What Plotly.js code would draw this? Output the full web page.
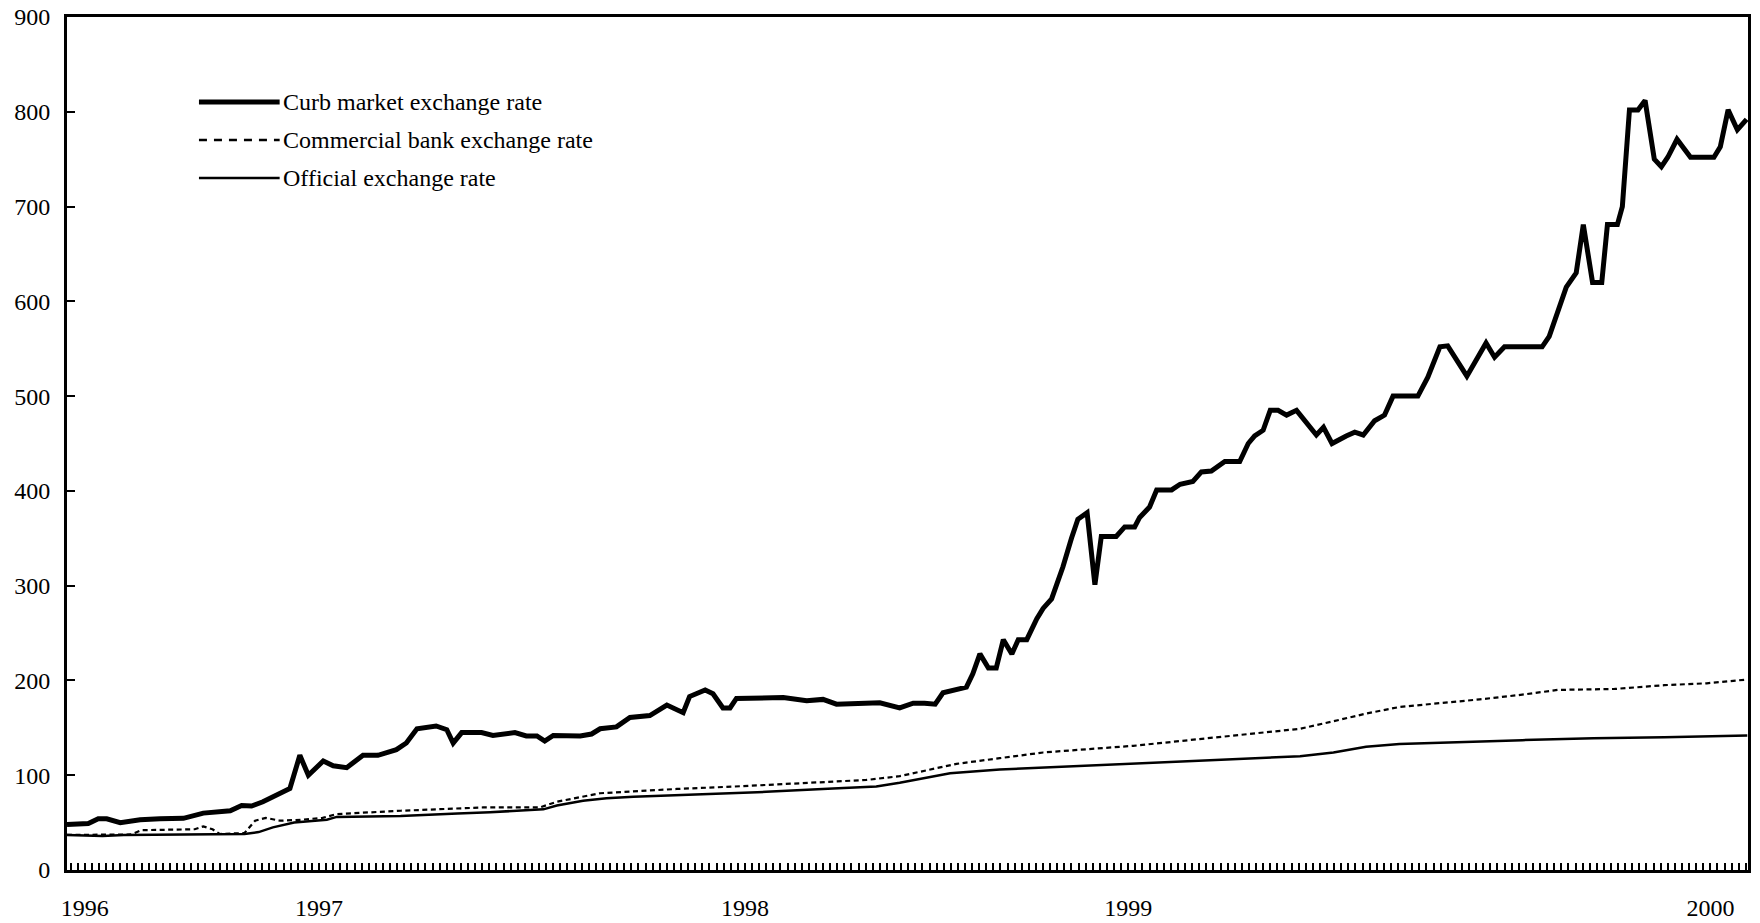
<!DOCTYPE html>
<html>
<head>
<meta charset="utf-8">
<script src="https://cdn.plot.ly/plotly-3.0.1.min.js"></script>
<style>html,body{margin:0;padding:0;background:#fff;}#chart{width:1760px;height:923px;}</style>
</head>
<body>
<div id="chart"></div>
<script>
// Observation index (one x-axis tick per observation) and values
const seriesNames = ["Curb market exchange rate", "Commercial bank exchange rate", "Official exchange rate"];

const curbX = [0,3,4.4,5.6,7.5,10.3,13.1,16.4,19.2,23,24.6,26,27.6,29,31.4,32.8,34,36.1,37.5,39.4,41.7,43.8,46.4,47.8,49.3,52,53.5,54.4,55.6,58.4,60,63.1,64.7,66.2,67.3,68.5,72.3,73.9,75.1,77.4,79.3,82.1,84.5,86.8,87.7,89.9,91,92.4,93.4,94.3,100.9,104.2,106.5,108.4,114.5,117.3,119.2,120.8,122.3,123.4,124.8,126.7,127.6,128.6,129.8,130.9,131.9,133.1,134,135.2,136.6,137.5,138.7,140.3,141.5,142.4,143.7,144.8,145.7,147.8,149,150.4,151.1,152.5,153.5,155.6,156.8,158.6,159.8,161.2,163.1,165.2,166.4,167.3,168.5,169.5,170.6,171.8,173.2,174.8,176,177,178.2,180.2,181.4,182.6,184.2,185.6,186.8,190.3,191.7,193.4,194.5,197.2,199.2,199.9,201.1,202.5,207.8,208.8,211.2,212.6,213.6,214.9,216.2,217,218.4,219.1,220.1,221.3,222.3,223.6,224.6,225.5,226.8,228.7,232,232.9,234,235.3,236.6];
const curbY = [48,49,54,54,50,53,54,54.5,60,62.5,68,67.5,72,77,86,121,100,115,110,108,121,121,127,134,149,152,148,134,145,145,142,145,141.5,141.5,136,142,141.5,143.5,149,151,161,163,174,166,183,190,186,171,171,181,182,178.5,180,175,176.5,171,176,176,175,187,190,193,207,228,213,213,243,228,243,243,265,276,286,320,350,370,377,301,352,352,362,362,372,383,401,401,407,410,420,421,431,431,450,458,464,485,485,480,485,469,459,467,450,458,462,459,474,480,500,500,520,552,553,521,548,556,541,552,552,563,615,630,681,620,620,681,681,700,802,802,812,750,742,752,771,752,752,763,802,781,792];

const bankX = [0,9,10.5,18,19.2,20.5,21.5,25,26.5,28,30,33,36,38,47,58.6,66.6,69,75.1,79.8,85.9,93.8,103.2,112.6,117.3,125.3,131.4,137.5,150.2,159.6,169,173.7,178.4,183,187.7,192,199,205,210,218,225,231,236.7];
const bankY = [37,37.5,42,43,46,43,38,39,52,55,52,53,55,59,62.5,66,66,72,81,83,85.5,88,91.4,95,99,112,118,124,131,138,145,149,157,165,172,175,180,185,190,191,195,197,201];

const officialX = [0,5,8,25,27,29,32,34,36.6,38,47,55,59.6,67.1,69,72.7,76,79.8,89.2,98.5,107.9,114,117.3,124.4,131.4,140.8,152.5,164.3,173.7,178.4,183,187.7,195,205,215,225,236.7];
const officialY = [37,36,37,38,40,45,50,51,53,56,57,59.7,61,64,68,73,75.6,77.3,79.7,82.5,86,88,92,102,106,109,113,117,120,124,130,133,135,137,139,140,142];

// Year labels and the observation index where each year starts
const yearLabels = ["1996", "1997", "1998", "1999", "2000"];
const yearIndex = [2, 35, 95, 149, 231];
const nObs = 237;

const styles = [
  {color: "#000", width: 5, dash: "solid"},
  {color: "#000", width: 2.2, dash: "5px,3.5px"},
  {color: "#000", width: 2.5, dash: "solid"}
];
const legendStyles = [
  {color: "#000", width: 5, dash: "solid"},
  {color: "#000", width: 2.5, dash: "8px,7px"},
  {color: "#000", width: 2.5, dash: "solid"}
];

const xs = [curbX, bankX, officialX];
const ys = [curbY, bankY, officialY];
const traces = xs.map((x, i) => ({
  x: x, y: ys[i], type: "scatter", mode: "lines", name: seriesNames[i],
  line: styles[i], showlegend: false, hoverinfo: "x+y"
}));

const tickvals = [];
const ticktext = [];
for (let k = 0; k < nObs; k++) {
  tickvals.push(k + 0.5);
  const j = yearIndex.indexOf(k);
  ticktext.push(j >= 0 ? yearLabels[j] : "");
}

const font = {family: "Liberation Serif, Times New Roman, serif", size: 24, color: "#000"};

// Custom legend (long sample lines as in the original)
const legX0 = 0.0785, legX1 = 0.1265, legTextX = 0.1275;
const legY = [0.9004, 0.8558, 0.8113];
const shapes = seriesNames.map((n, i) => ({
  type: "line", xref: "paper", yref: "paper", x0: legX0, x1: legX1, y0: legY[i], y1: legY[i],
  line: legendStyles[i]
}));
const annotations = seriesNames.map((n, i) => ({
  xref: "paper", yref: "paper", x: legTextX, y: legY[i], text: n, showarrow: false,
  xanchor: "left", yanchor: "middle", font: font
}));

const layout = {
  width: 1760, height: 923,
  margin: {l: 67, r: 12, t: 17, b: 53},
  paper_bgcolor: "#fff", plot_bgcolor: "#fff",
  font: font,
  showlegend: false,
  xaxis: {
    range: [0, 236.8], tickmode: "array", tickvals: tickvals, ticktext: ticktext,
    ticks: "inside", ticklen: 7, tickwidth: 2, tickcolor: "#000",
    showline: true, linewidth: 3, linecolor: "#000", mirror: true,
    showgrid: false, zeroline: false, ticklabelstandoff: 14, tickfont: font
  },
  yaxis: {
    range: [0, 900], tickmode: "linear", tick0: 0, dtick: 100,
    ticks: "inside", ticklen: 8, tickwidth: 2, tickcolor: "#000",
    showline: true, linewidth: 3, linecolor: "#000", mirror: true,
    showgrid: false, zeroline: false, ticklabelstandoff: 9, tickfont: font
  },
  shapes: shapes,
  annotations: annotations
};

Plotly.newPlot("chart", traces, layout, {displayModeBar: false, staticPlot: true});
</script>
</body>
</html>
